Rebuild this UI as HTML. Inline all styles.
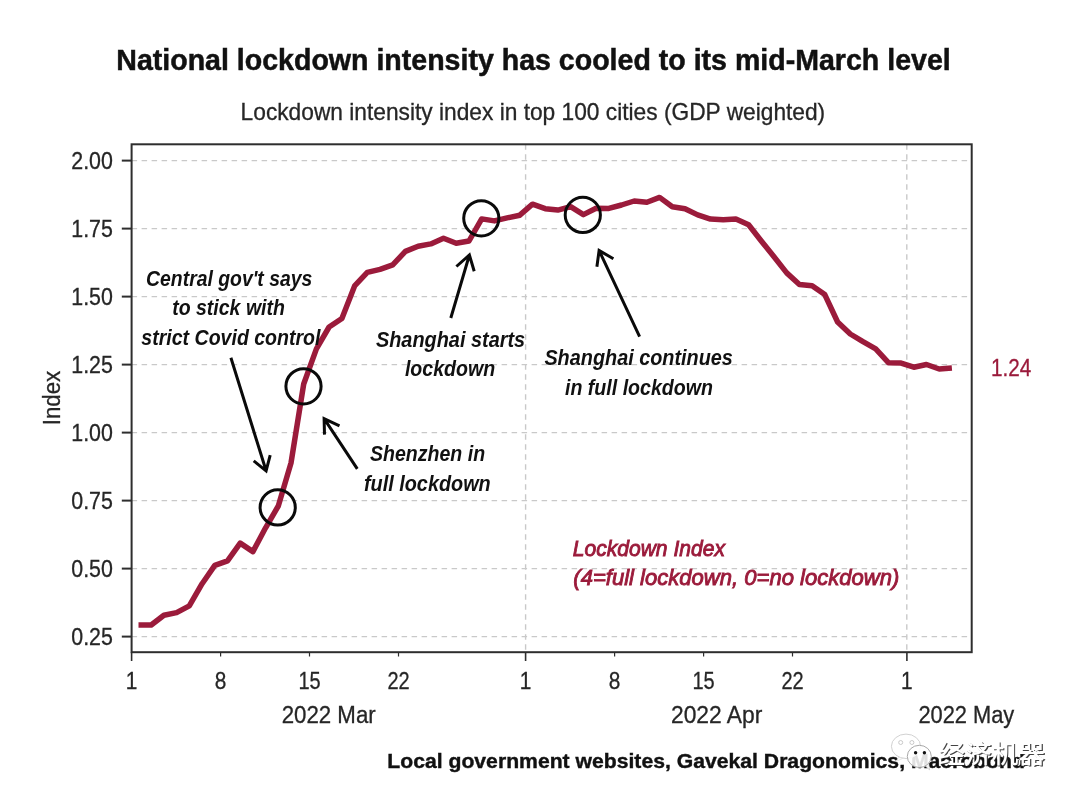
<!DOCTYPE html>
<html lang="en"><head><meta charset="utf-8"><title>National lockdown intensity</title>
<style>
html,body{margin:0;padding:0;background:#fff;}
body{width:1080px;height:801px;overflow:hidden;}
svg{display:block;}
text{font-family:"Liberation Sans","Noto Sans CJK SC",sans-serif;}
.r{stroke:#262626;stroke-width:0.3px;}
.b{font-weight:bold;}
.bi{font-weight:bold;font-style:italic;}
.wm{font-family:"Noto Sans CJK SC","WenQuanYi Zen Hei",sans-serif;}
</style></head><body>
<svg width="1080" height="801" viewBox="0 0 1080 801">
<rect width="1080" height="801" fill="#ffffff"/>
<text x="116.3" y="69.5" font-size="29.5" text-anchor="start" fill="#111" class="b" textLength="834.4" lengthAdjust="spacingAndGlyphs" stroke="#111" stroke-width="0.5">National lockdown intensity has cooled to its mid-March level</text>
<text x="240.6" y="119.6" font-size="24" text-anchor="start" fill="#262626" class="r" textLength="584.6" lengthAdjust="spacingAndGlyphs">Lockdown intensity index in top 100 cities (GDP weighted)</text>
<line x1="131.6" x2="971.7" y1="160.6" y2="160.6" stroke="#c9c9c9" stroke-width="1.4" stroke-dasharray="5.5 4.5"/>
<line x1="131.6" x2="971.7" y1="228.6" y2="228.6" stroke="#c9c9c9" stroke-width="1.4" stroke-dasharray="5.5 4.5"/>
<line x1="131.6" x2="971.7" y1="296.6" y2="296.6" stroke="#c9c9c9" stroke-width="1.4" stroke-dasharray="5.5 4.5"/>
<line x1="131.6" x2="971.7" y1="364.6" y2="364.6" stroke="#c9c9c9" stroke-width="1.4" stroke-dasharray="5.5 4.5"/>
<line x1="131.6" x2="971.7" y1="432.6" y2="432.6" stroke="#c9c9c9" stroke-width="1.4" stroke-dasharray="5.5 4.5"/>
<line x1="131.6" x2="971.7" y1="500.6" y2="500.6" stroke="#c9c9c9" stroke-width="1.4" stroke-dasharray="5.5 4.5"/>
<line x1="131.6" x2="971.7" y1="568.6" y2="568.6" stroke="#c9c9c9" stroke-width="1.4" stroke-dasharray="5.5 4.5"/>
<line x1="131.6" x2="971.7" y1="636.6" y2="636.6" stroke="#c9c9c9" stroke-width="1.4" stroke-dasharray="5.5 4.5"/>
<line x1="525.6" x2="525.6" y1="144.3" y2="652.2" stroke="#c9c9c9" stroke-width="1.4" stroke-dasharray="5.5 4.5"/>
<line x1="906.8" x2="906.8" y1="144.3" y2="652.2" stroke="#c9c9c9" stroke-width="1.4" stroke-dasharray="5.5 4.5"/>
<polyline points="138.5,625.0 151.2,625.0 163.9,615.2 176.6,612.6 189.3,605.8 202.1,583.7 214.8,565.4 227.5,560.8 240.2,543.1 252.9,551.6 265.6,527.8 278.3,506.0 291.0,463.0 303.7,384.0 316.4,348.9 329.1,327.0 341.9,318.5 354.6,285.9 367.3,272.4 380.0,269.4 392.7,264.9 405.4,251.4 418.1,246.2 430.8,243.9 443.5,238.2 456.2,243.2 469.0,241.0 481.7,218.9 494.4,220.9 507.1,217.9 519.8,215.2 532.5,204.2 545.2,208.7 557.9,210.1 570.6,206.7 583.4,214.6 596.1,208.2 608.8,208.4 621.5,205.0 634.2,201.0 646.9,202.2 659.6,197.4 672.3,206.7 685.0,208.7 697.7,214.9 710.5,219.1 723.2,219.7 735.9,219.1 748.6,224.8 761.3,241.0 774.0,256.7 786.7,272.9 799.4,284.5 812.1,285.7 824.8,294.6 837.6,322.0 850.3,334.0 863.0,341.7 875.7,348.9 888.4,362.7 901.1,363.1 913.8,367.2 926.5,364.5 939.2,369.0 951.9,367.9" fill="none" stroke="#9b1b3b" stroke-width="5.5" stroke-linejoin="round" stroke-linecap="butt"/>
<rect x="131.6" y="144.3" width="840.1" height="507.9" fill="none" stroke="#2e2e2e" stroke-width="2"/>
<line x1="121.8" x2="131.6" y1="160.6" y2="160.6" stroke="#2e2e2e" stroke-width="2"/>
<text x="71.3" y="169.0" font-size="23.5" text-anchor="start" fill="#262626" class="r" textLength="41.6" lengthAdjust="spacingAndGlyphs">2.00</text>
<line x1="121.8" x2="131.6" y1="228.6" y2="228.6" stroke="#2e2e2e" stroke-width="2"/>
<text x="71.3" y="237.0" font-size="23.5" text-anchor="start" fill="#262626" class="r" textLength="41.6" lengthAdjust="spacingAndGlyphs">1.75</text>
<line x1="121.8" x2="131.6" y1="296.6" y2="296.6" stroke="#2e2e2e" stroke-width="2"/>
<text x="71.3" y="305.0" font-size="23.5" text-anchor="start" fill="#262626" class="r" textLength="41.6" lengthAdjust="spacingAndGlyphs">1.50</text>
<line x1="121.8" x2="131.6" y1="364.6" y2="364.6" stroke="#2e2e2e" stroke-width="2"/>
<text x="71.3" y="373.0" font-size="23.5" text-anchor="start" fill="#262626" class="r" textLength="41.6" lengthAdjust="spacingAndGlyphs">1.25</text>
<line x1="121.8" x2="131.6" y1="432.6" y2="432.6" stroke="#2e2e2e" stroke-width="2"/>
<text x="71.3" y="441.0" font-size="23.5" text-anchor="start" fill="#262626" class="r" textLength="41.6" lengthAdjust="spacingAndGlyphs">1.00</text>
<line x1="121.8" x2="131.6" y1="500.6" y2="500.6" stroke="#2e2e2e" stroke-width="2"/>
<text x="71.3" y="509.0" font-size="23.5" text-anchor="start" fill="#262626" class="r" textLength="41.6" lengthAdjust="spacingAndGlyphs">0.75</text>
<line x1="121.8" x2="131.6" y1="568.6" y2="568.6" stroke="#2e2e2e" stroke-width="2"/>
<text x="71.3" y="577.0" font-size="23.5" text-anchor="start" fill="#262626" class="r" textLength="41.6" lengthAdjust="spacingAndGlyphs">0.50</text>
<line x1="121.8" x2="131.6" y1="636.6" y2="636.6" stroke="#2e2e2e" stroke-width="2"/>
<text x="71.3" y="645.0" font-size="23.5" text-anchor="start" fill="#262626" class="r" textLength="41.6" lengthAdjust="spacingAndGlyphs">0.25</text>
<line x1="131.6" x2="131.6" y1="652.2" y2="661" stroke="#2e2e2e" stroke-width="1.6"/>
<text x="125.8" y="689.4" font-size="23.5" text-anchor="start" fill="#262626" class="r" textLength="11.6" lengthAdjust="spacingAndGlyphs">1</text>
<line x1="220.6" x2="220.6" y1="652.2" y2="656.5" stroke="#2e2e2e" stroke-width="1.2"/>
<text x="214.8" y="689.4" font-size="23.5" text-anchor="start" fill="#262626" class="r" textLength="11.6" lengthAdjust="spacingAndGlyphs">8</text>
<line x1="309.5" x2="309.5" y1="652.2" y2="656.5" stroke="#2e2e2e" stroke-width="1.2"/>
<text x="298.4" y="689.4" font-size="23.5" text-anchor="start" fill="#262626" class="r" textLength="22.2" lengthAdjust="spacingAndGlyphs">15</text>
<line x1="398.5" x2="398.5" y1="652.2" y2="656.5" stroke="#2e2e2e" stroke-width="1.2"/>
<text x="387.4" y="689.4" font-size="23.5" text-anchor="start" fill="#262626" class="r" textLength="22.2" lengthAdjust="spacingAndGlyphs">22</text>
<line x1="525.6" x2="525.6" y1="652.2" y2="661" stroke="#2e2e2e" stroke-width="1.6"/>
<text x="519.8" y="689.4" font-size="23.5" text-anchor="start" fill="#262626" class="r" textLength="11.6" lengthAdjust="spacingAndGlyphs">1</text>
<line x1="614.6" x2="614.6" y1="652.2" y2="656.5" stroke="#2e2e2e" stroke-width="1.2"/>
<text x="608.8" y="689.4" font-size="23.5" text-anchor="start" fill="#262626" class="r" textLength="11.6" lengthAdjust="spacingAndGlyphs">8</text>
<line x1="703.6" x2="703.6" y1="652.2" y2="656.5" stroke="#2e2e2e" stroke-width="1.2"/>
<text x="692.5" y="689.4" font-size="23.5" text-anchor="start" fill="#262626" class="r" textLength="22.2" lengthAdjust="spacingAndGlyphs">15</text>
<line x1="792.5" x2="792.5" y1="652.2" y2="656.5" stroke="#2e2e2e" stroke-width="1.2"/>
<text x="781.4" y="689.4" font-size="23.5" text-anchor="start" fill="#262626" class="r" textLength="22.2" lengthAdjust="spacingAndGlyphs">22</text>
<line x1="906.9" x2="906.9" y1="652.2" y2="661" stroke="#2e2e2e" stroke-width="1.6"/>
<text x="901.1" y="689.4" font-size="23.5" text-anchor="start" fill="#262626" class="r" textLength="11.6" lengthAdjust="spacingAndGlyphs">1</text>
<text x="281.7" y="723.4" font-size="23.5" text-anchor="start" fill="#262626" class="r" textLength="94.0" lengthAdjust="spacingAndGlyphs">2022 Mar</text>
<text x="671" y="723.4" font-size="23.5" text-anchor="start" fill="#262626" class="r" textLength="91.3" lengthAdjust="spacingAndGlyphs">2022 Apr</text>
<text x="918.4" y="723.4" font-size="23.5" text-anchor="start" fill="#262626" class="r" textLength="95.9" lengthAdjust="spacingAndGlyphs">2022 May</text>
<text transform="translate(59.6,425.2) rotate(-90)" font-size="23.5" fill="#262626" class="r" textLength="54.4" lengthAdjust="spacingAndGlyphs">Index</text>
<text x="991" y="376.2" font-size="23.8" text-anchor="start" fill="#9b1b3b" textLength="40.3" lengthAdjust="spacingAndGlyphs" stroke="#9b1b3b" stroke-width="0.3">1.24</text>
<circle cx="277.7" cy="507.4" r="17.6" fill="none" stroke="#0a0a0a" stroke-width="3"/>
<circle cx="303.5" cy="386.3" r="17.6" fill="none" stroke="#0a0a0a" stroke-width="3"/>
<circle cx="481.3" cy="218.3" r="17.6" fill="none" stroke="#0a0a0a" stroke-width="3"/>
<circle cx="582.8" cy="214.9" r="17.6" fill="none" stroke="#0a0a0a" stroke-width="3"/>
<path d="M230.9,357.8 L266.1,470.8 M253.7,460.8 L266.1,470.8 L270.2,455.2" fill="none" stroke="#0a0a0a" stroke-width="3" stroke-linejoin="miter" stroke-linecap="butt"/>
<path d="M357.3,468.8 L324.1,418.6 M339.5,425.8 L324.1,418.6 L324.5,434.6" fill="none" stroke="#0a0a0a" stroke-width="3" stroke-linejoin="miter" stroke-linecap="butt"/>
<path d="M450.8,318 L469.4,255.0 M456.4,266.5 L469.4,255.0 L474.2,271.2" fill="none" stroke="#0a0a0a" stroke-width="3" stroke-linejoin="miter" stroke-linecap="butt"/>
<path d="M639.6,336.7 L599.1,250.5 M596.9,266.7 L599.1,250.5 L613.4,258.8" fill="none" stroke="#0a0a0a" stroke-width="3" stroke-linejoin="miter" stroke-linecap="butt"/>
<text x="146.1" y="285.5" font-size="22.5" text-anchor="start" fill="#111" class="bi" textLength="166.2" lengthAdjust="spacingAndGlyphs">Central gov't says</text>
<text x="172.2" y="315.3" font-size="22.5" text-anchor="start" fill="#111" class="bi" textLength="112.7" lengthAdjust="spacingAndGlyphs">to stick with</text>
<text x="141.3" y="345" font-size="22.5" text-anchor="start" fill="#111" class="bi" textLength="179.2" lengthAdjust="spacingAndGlyphs">strict Covid control</text>
<text x="375.9" y="346.5" font-size="22.5" text-anchor="start" fill="#111" class="bi" textLength="149.3" lengthAdjust="spacingAndGlyphs">Shanghai starts</text>
<text x="404.9" y="376.2" font-size="22.5" text-anchor="start" fill="#111" class="bi" textLength="90.3" lengthAdjust="spacingAndGlyphs">lockdown</text>
<text x="544.4" y="364.9" font-size="22.5" text-anchor="start" fill="#111" class="bi" textLength="188.5" lengthAdjust="spacingAndGlyphs">Shanghai continues</text>
<text x="565" y="394.7" font-size="22.5" text-anchor="start" fill="#111" class="bi" textLength="147.9" lengthAdjust="spacingAndGlyphs">in full lockdown</text>
<text x="370" y="460.8" font-size="22.5" text-anchor="start" fill="#111" class="bi" textLength="115.1" lengthAdjust="spacingAndGlyphs">Shenzhen in</text>
<text x="364" y="490.6" font-size="22.5" text-anchor="start" fill="#111" class="bi" textLength="126.7" lengthAdjust="spacingAndGlyphs">full lockdown</text>
<text x="572.7" y="555.7" font-size="22.5" text-anchor="start" fill="#9b1b3b" textLength="152.3" lengthAdjust="spacingAndGlyphs" font-style="italic" stroke="#9b1b3b" stroke-width="0.9">Lockdown Index</text>
<text x="573.3" y="585.2" font-size="22.5" text-anchor="start" fill="#9b1b3b" textLength="326.0" lengthAdjust="spacingAndGlyphs" font-style="italic" stroke="#9b1b3b" stroke-width="0.9">(4=full lockdown, 0=no lockdown)</text>
<text x="387.3" y="767.5" font-size="21" text-anchor="start" fill="#111" class="b" textLength="637.7" lengthAdjust="spacingAndGlyphs" stroke="#111" stroke-width="0.4">Local government websites, Gavekal Dragonomics, Macrobond</text>
<g>
<path d="M899,756.5 L896,761.5 L903.5,758 Z" fill="#fff" fill-opacity="0.9" stroke="#d5d5d5" stroke-width="0.6"/>
<ellipse cx="906" cy="746.3" rx="14.6" ry="12.2" fill="#fff" fill-opacity="0.92" stroke="#d2d2d2" stroke-width="1"/>
<circle cx="900.7" cy="742.5" r="2" fill="#fff" stroke="#c4c4c4" stroke-width="0.9"/>
<circle cx="911.9" cy="742.5" r="2" fill="#fff" stroke="#c4c4c4" stroke-width="0.9"/>
<path d="M924.5,765.5 L929.6,769.8 L928.6,763 Z" fill="#fff" fill-opacity="0.9" stroke="#bbb" stroke-width="0.6"/>
<ellipse cx="919.3" cy="756.4" rx="12" ry="11.1" fill="#fff" fill-opacity="0.87" stroke="#a8a8a8" stroke-width="1"/>
<circle cx="915.6" cy="752.7" r="1.7" fill="#111"/>
<circle cx="924.4" cy="752.7" r="1.7" fill="#111"/>
<text class="wm" x="939.6" y="763.9" font-size="24.6" font-weight="500" fill="#222" fill-opacity="0.85" textLength="106.5" lengthAdjust="spacingAndGlyphs">经济机器</text>
<text class="wm" x="938.4" y="762.8" font-size="24.6" font-weight="500" fill="#ffffff" textLength="106.5" lengthAdjust="spacingAndGlyphs">经济机器</text>
</g>
</svg></body></html>
